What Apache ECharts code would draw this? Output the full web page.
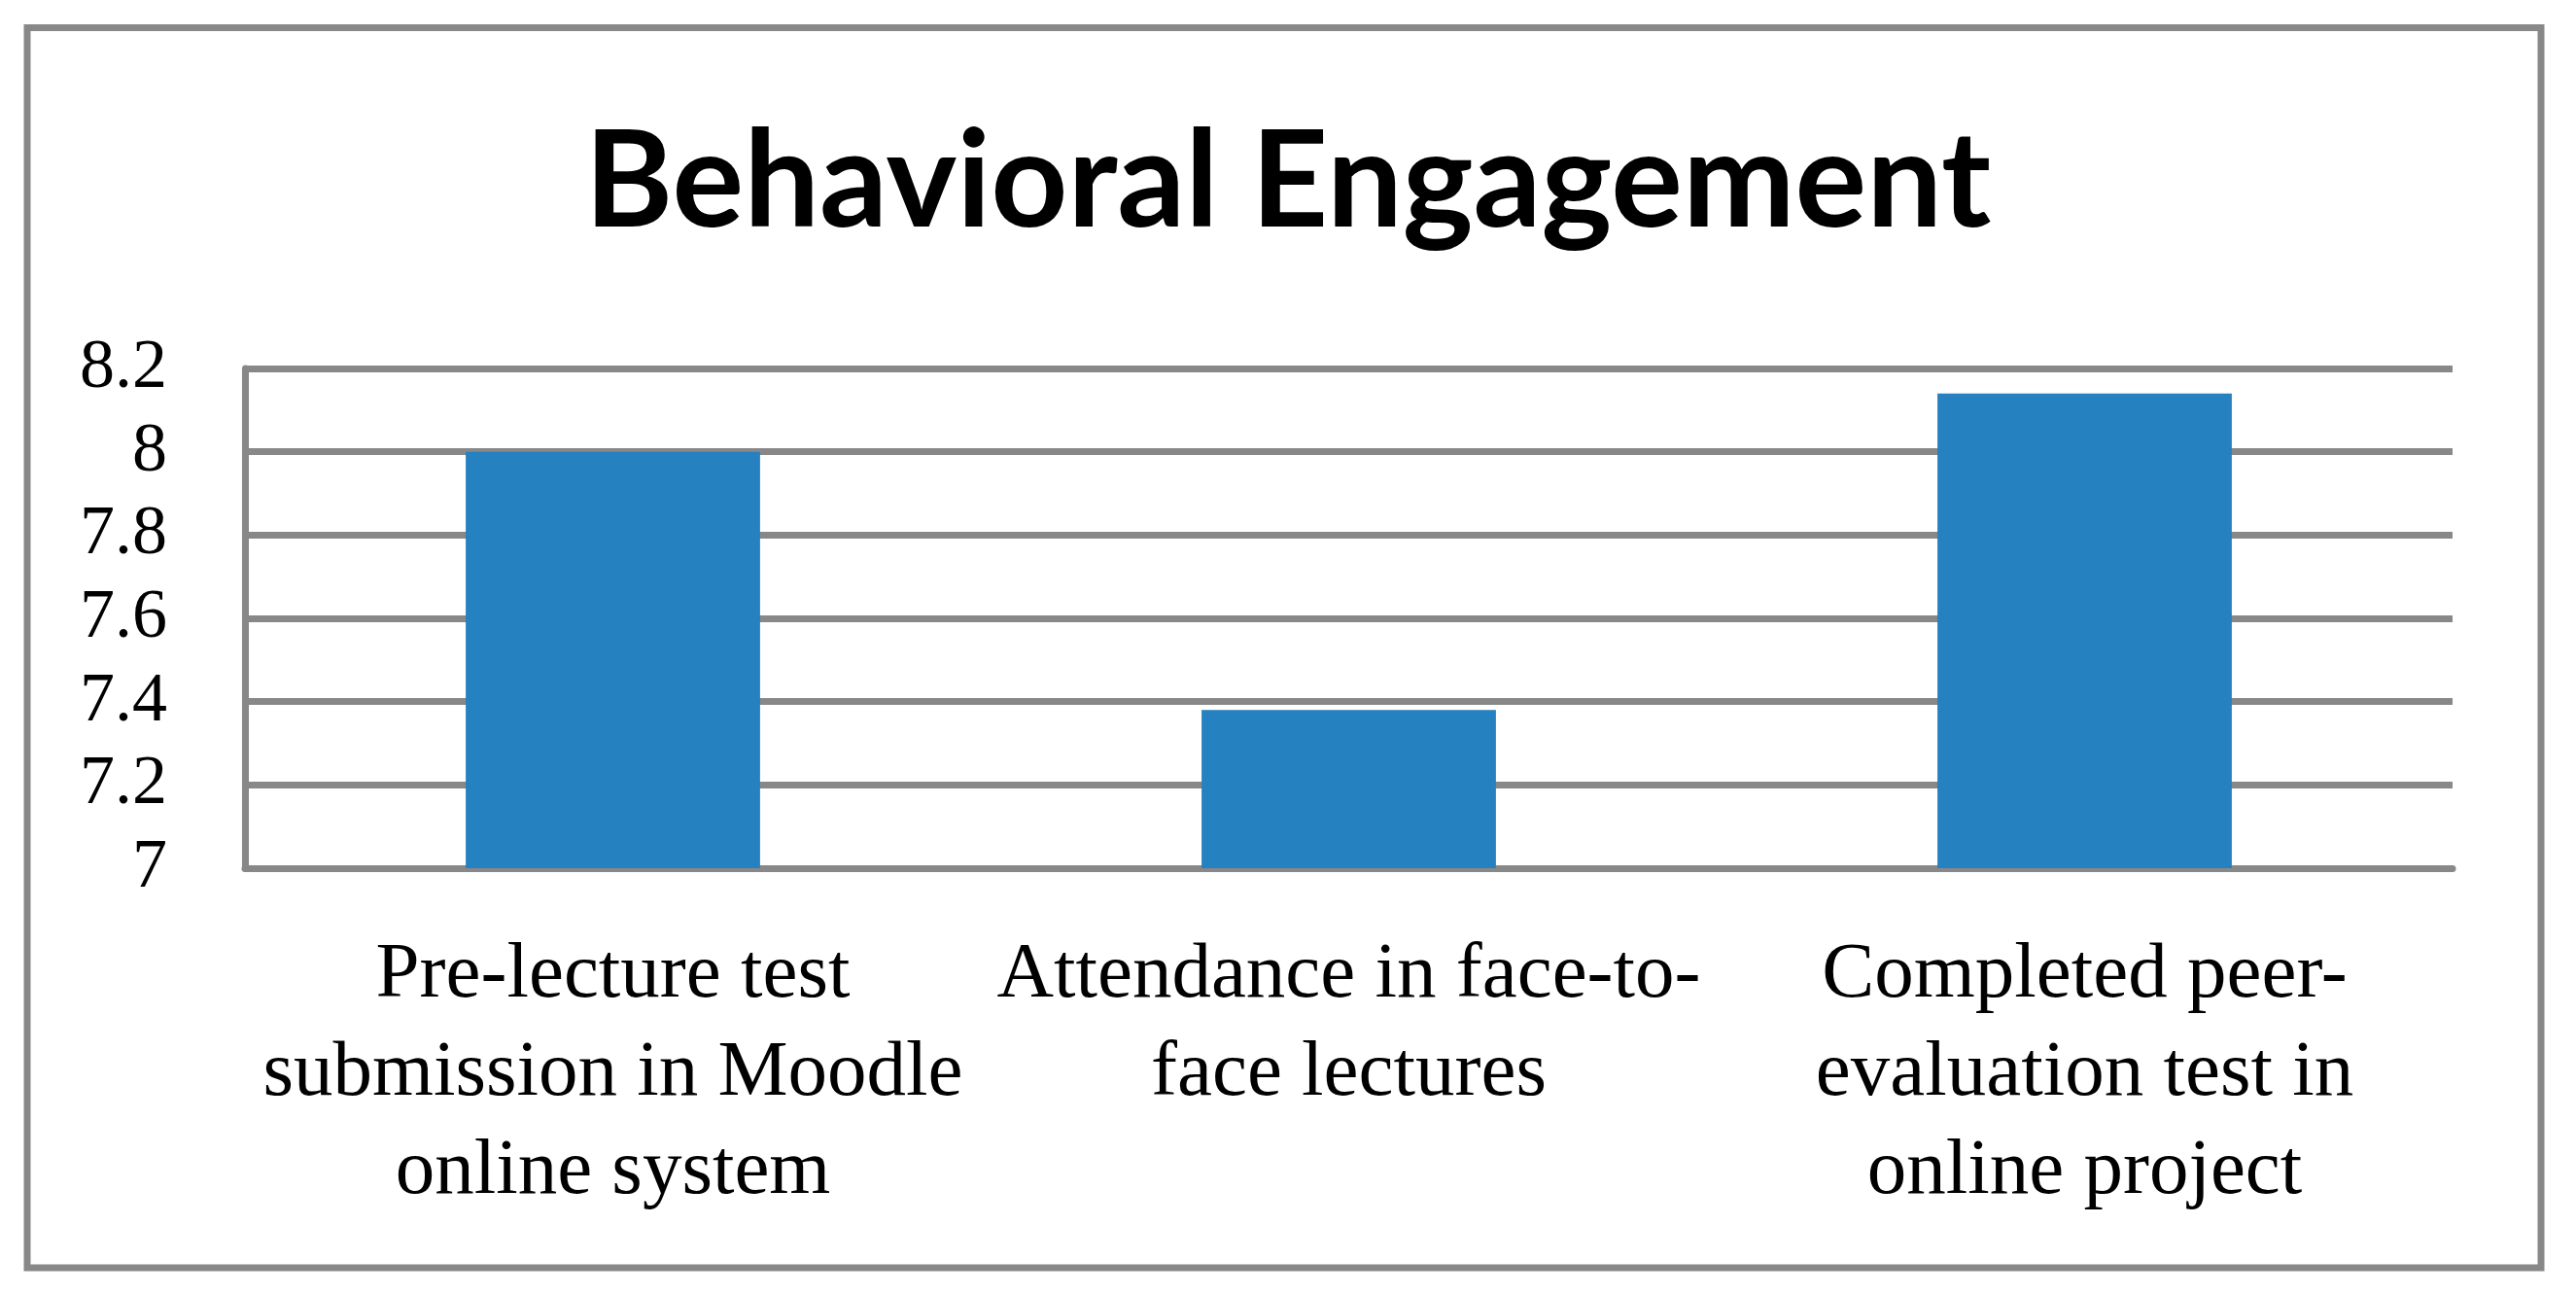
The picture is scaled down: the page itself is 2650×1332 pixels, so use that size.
<!DOCTYPE html>
<html>
<head>
<meta charset="utf-8">
<script src="https://cdn.jsdelivr.net/npm/echarts@6/dist/echarts.min.js"></script>
<style>
  html, body { margin: 0; padding: 0; background: #fff; }
  #chart { width: 2650px; height: 1332px; }
</style>
</head>
<body>
<div id="chart"></div>
<script>
// data
const categories = [
  'Pre-lecture test\nsubmission in Moodle\nonline system',
  'Attendance in face-to-\nface lectures',
  'Completed peer-\nevaluation test in\nonline project'
]
const scores = [8.0, 7.38, 8.14]
const yMin = 7
const yMax = 8.2
const yStep = 0.2

const chart = echarts.init(document.getElementById('chart'))

const grey = '#888888'

const option = {
  backgroundColor: '#ffffff',
  animation: false,
  title: {
    text: 'Behavioral Engagement',
    left: 'center',
    top: 114,
    textStyle: {
      fontFamily: 'Lato',
      fontWeight: 'bold',
      fontSize: 138,
      color: '#000'
    }
  },
  // outer frame of the figure
  graphic: [
    {
      type: 'rect',
      shape: { x: 28, y: 28.5, width: 2586, height: 1275.5 },
      style: { fill: 'none', stroke: grey, lineWidth: 7 },
      silent: true
    }
  ],
  grid: {
    left: 252,
    top: 379,
    width: 2271,
    height: 514
  },
  xAxis: {
    type: 'category',
    data: categories,
    axisTick: { show: false },
    axisLine: { show: true, lineStyle: { color: grey, width: 7 } },
    axisLabel: {
      interval: 0,
      margin: 60,
      fontFamily: 'Liberation Serif',
      fontSize: 81,
      lineHeight: 101,
      color: '#000',
      align: 'center'
    }
  },
  yAxis: {
    type: 'value',
    min: yMin,
    max: yMax,
    interval: yStep,
    axisLine: { show: true, lineStyle: { color: grey, width: 7 } },
    axisTick: { show: false },
    splitLine: { show: true, lineStyle: { color: grey, width: 7 } },
    axisLabel: {
      margin: 80,
      fontFamily: 'Liberation Serif',
      fontSize: 72,
      color: '#000'
    }
  },
  series: [
    {
      type: 'bar',
      data: scores,
      barWidth: '40%',
      itemStyle: { color: '#2581c0' }
    }
  ]
}

chart.setOption(option)
</script>
</body>
</html>
